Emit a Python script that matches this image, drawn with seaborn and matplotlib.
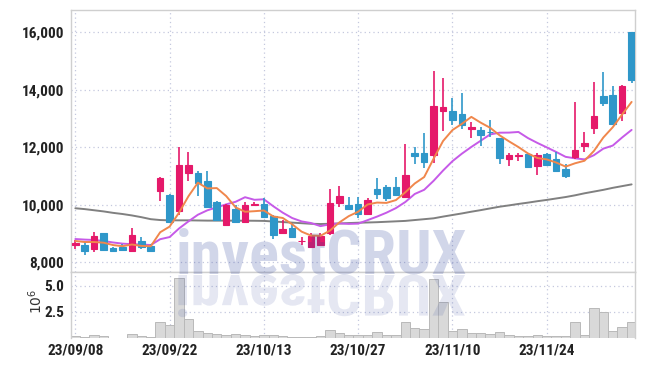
import os
import matplotlib
matplotlib.use("Agg")
import matplotlib.pyplot as plt
import matplotlib.ticker as mticker
import matplotlib.transforms as mtrans
from matplotlib.textpath import TextPath
from matplotlib.patches import PathPatch
from matplotlib.font_manager import FontProperties
from matplotlib import font_manager as fm
import seaborn as sns
import numpy as np
import pandas as pd

# ---------------- data ----------------
opens = [8600, 8610, 8460, 9020, 8510, 8540, 8380, 8750, 8570, 10490,
         10340, 9800, 11100, 11120, 10830, 10100, 9300, 9850, 9410, 9990,
         10030, 9610, 9030, 9200, 8730, 8540, 8600, 9030, 10050, 9990,
         10030, 9670, 10550, 10610, 10610, 10260, 11800, 11800, 11730, 13260,
         13260, 13160, 12640, 12600, 12540, 12310, 11590, 11700, 11770, 11360,
         11770, 11590, 11250, 11670, 12060, 12680, 13780, 13820, 13180, 16000]
highs = [8780, 8700, 9040, 9030, 8530, 8620, 9180, 8870, 8630, 10950,
         10380, 12020, 11850, 11190, 11190, 10130, 10030, 9990, 10090, 10110,
         10230, 9650, 9470, 9360, 8870, 9010, 9030, 10540, 10660, 10260,
         10260, 10230, 10920, 10690, 10980, 12110, 12000, 12490, 14660, 14400,
         13700, 13880, 12890, 12720, 12950, 12330, 11810, 11810, 11790, 11790,
         11790, 11830, 11420, 13590, 12520, 14280, 14610, 14140, 14150, 16000]
lows = [8450, 8250, 8370, 8430, 8350, 8390, 8350, 8480, 8350, 10120,
        9400, 9650, 10820, 10300, 9930, 9460, 9260, 9400, 9400, 9950,
        9580, 8810, 9030, 8880, 8600, 8540, 8590, 8950, 9910, 9840,
        9530, 9660, 10190, 10130, 10330, 10250, 11410, 11270, 11440, 12570,
        12780, 12630, 12310, 12050, 12370, 11410, 11360, 11520, 11270, 11040,
        11380, 11180, 10920, 11600, 11850, 12450, 13440, 12790, 12910, 14250]
closes = [8670, 8390, 8910, 8440, 8400, 8430, 8950, 8520, 8400, 10930,
          9410, 11380, 11380, 10750, 9930, 9470, 9990, 9410, 9990, 10030,
          9590, 8950, 9150, 8890, 8750, 8910, 8910, 10050, 10310, 9850,
          9680, 10170, 10380, 10250, 10340, 11040, 11700, 11500, 13440, 13410,
          12950, 12780, 12710, 12430, 12520, 11640, 11730, 11720, 11330, 11720,
          11390, 11190, 11010, 11910, 12160, 13090, 13530, 12800, 14130, 14340]
volumes = [0.16, 0.10, 0.26, 0.15, 0.03, 0.03, 0.35, 0.15, 0.12, 1.54,
           1.22, 5.74, 1.83, 0.67, 0.48, 0.38, 0.26, 0.35, 0.26, 0.15,
           0.26, 0.26, 0.15, 0.12, 0.10, 0.10, 0.15, 0.74, 0.48, 0.26,
           0.26, 0.28, 0.55, 0.26, 0.26, 1.51, 0.93, 0.83, 5.64, 3.43,
           0.70, 0.83, 0.48, 0.48, 0.38, 0.58, 0.26, 0.15, 0.15, 0.26,
           0.15, 0.15, 0.15, 1.51, 0.26, 2.86, 2.47, 0.67, 1.06, 1.51]
ma5 = [8741, 8706, 8706, 8682, 8600, 8560, 8620, 8570, 8560, 9046,
       9242, 9728, 10300, 10770, 10570, 10582, 10304, 9910, 9758, 9778,
       9802, 9594, 9542, 9322, 9066, 8930, 8922, 9102, 9386, 9606,
       9760, 10012, 10078, 10066, 10164, 10436, 10742, 10966, 11604, 12218,
       12600, 12816, 13058, 12856, 12678, 12416, 12206, 12008, 11788, 11628,
       11578, 11470, 11328, 11444, 11532, 11872, 12340, 12698, 13142, 13578]
ma10 = [8810, 8790, 8776, 8741, 8690, 8650, 8630, 8620, 8600, 8804,
        8878, 9177, 9424, 9655, 9808, 9912, 10016, 10105, 10264, 10174,
        10192, 9949, 9726, 9540, 9422, 9366, 9258, 9322, 9354, 9336,
        9345, 9467, 9590, 9726, 9885, 10098, 10377, 10522, 10835, 11191,
        11518, 11779, 12012, 12230, 12448, 12508, 12511, 12533, 12322, 12153,
        11997, 11838, 11668, 11616, 11580, 11725, 11953, 12060, 12343, 12605]
ma60 = [9880, 9850, 9810, 9770, 9720, 9680, 9630, 9570, 9500, 9470,
        9460, 9460, 9460, 9455, 9450, 9450, 9450, 9448, 9447, 9445,
        9440, 9420, 9400, 9380, 9360, 9340, 9332, 9340, 9350, 9365,
        9377, 9385, 9395, 9410, 9425, 9440, 9470, 9500, 9530, 9590,
        9645, 9700, 9760, 9815, 9875, 9934, 9980, 10030, 10075, 10125,
        10170, 10220, 10270, 10330, 10400, 10460, 10520, 10590, 10650, 10710]
tick_pos = [0, 10, 20, 30, 40, 50]
tick_labels = ["23/09/08", "23/09/22", "23/10/13", "23/10/27", "23/11/10", "23/11/24"]
price_ticks = [8000, 10000, 12000, 14000, 16000]
vol_ticks = [2.5, 5.0]

# ---------------- fonts ----------------
def pick_font(patterns):
    files = [f.fname for f in fm.fontManager.ttflist]
    for pat in patterns:
        for fn in files:
            if pat in os.path.basename(fn).lower():
                return fn
    return None

narrow_bold = pick_font(["robotocondensed-bold.", "liberationsansnarrow-bold.",
                         "dejavusanscondensed-bold.", "notosans-condensedbold.",
                         "opensans-condensedbold.", "opensans_condensed-bold.",
                         "liberationsans-bold.", "dejavusans-bold."])
TICKFP = FontProperties(fname=narrow_bold) if narrow_bold else FontProperties(weight="bold")

# ---------------- style ----------------
sns.set_theme(style="white")
plt.rcParams["font.family"] = ["DejaVu Sans"]

UP = "#e5196a"
DOWN = "#2f97c9"
GRID = "#c4c8de"
SPINE = "#cfcfcf"

df = pd.DataFrame({"idx": np.arange(len(closes)), "open": opens, "high": highs,
                   "low": lows, "close": closes, "volume": volumes,
                   "ma5": ma5, "ma10": ma10, "ma60": ma60})
df["color"] = np.where(df["close"] >= df["open"], UP, DOWN)

W, H = 645, 366
fig = plt.figure(figsize=(W / 100, H / 100), dpi=100)
L, R, T, MID, B = 71, 635, 10, 272, 338
ax = fig.add_axes([L / W, 1 - MID / H, (R - L) / W, (MID - T) / H])
axv = fig.add_axes([L / W, 1 - B / H, (R - L) / W, (B - MID) / H], sharex=ax)

# moving averages
sns.lineplot(data=df, x="idx", y="ma60", ax=ax, color="#808080", lw=1.4, zorder=2)
sns.lineplot(data=df, x="idx", y="ma10", ax=ax, color="#c65ae8", lw=1.4, zorder=2)
sns.lineplot(data=df, x="idx", y="ma5", ax=ax, color="#f0874c", lw=1.4, zorder=4)

# candles
ax.vlines(df["idx"], df["low"], df["high"], colors=df["color"], lw=1.2, zorder=3)
body_bottom = np.minimum(df["open"], df["close"])
body_h = np.abs(df["close"] - df["open"])
ax.bar(df["idx"], body_h, bottom=body_bottom, width=0.7, color=df["color"],
       edgecolor=df["color"], linewidth=0.8, zorder=3)

# volume
axv.bar(df["idx"], df["volume"], width=1.0, color="#d9d9d9",
        edgecolor="#b9b9b9", linewidth=0.7, zorder=2)

# axes formatting
ax.set_xlim(-0.46, 59.36)
ax.set_ylim(7663, 16775)
axv.set_ylim(0, 6.3)
ax.set_yticks(price_ticks)
ax.yaxis.set_major_formatter(mticker.FuncFormatter(lambda v, p: f"{int(v):,}"))
axv.set_yticks(vol_ticks)
axv.yaxis.set_major_formatter(mticker.FormatStrFormatter("%.1f"))
axv.set_xticks(tick_pos)
axv.set_xticklabels(tick_labels)
ax.tick_params(axis="x", labelbottom=False, length=0)
for a in (ax, axv):
    a.set_xlabel("")
    a.set_ylabel("")
    a.tick_params(axis="both", length=0, pad=5, labelcolor="#222222")
    for lab in a.get_yticklabels() + a.get_xticklabels():
        lab.set_fontproperties(TICKFP)
        lab.set_fontsize(11)
    a.grid(True, color=GRID, linestyle=(0, (1, 2.5)), linewidth=0.9)
    a.set_axisbelow(True)
    for s in a.spines.values():
        s.set_color(SPINE)
        s.set_linewidth(1.0)
axv.spines["bottom"].set_visible(False)
axv.tick_params(axis="x", pad=4)
axv.set_ylabel(r"$10^6$", fontsize=10, color="#333333")
axv.yaxis.set_label_coords((45 - L) / (R - L), 0.55)

# watermark and its faint reflection
wm_file = pick_font(["liberationsansnarrow-bold.", "robotocondensed-bold.",
                     "dejavusanscondensed-bold.", "liberationsans-bold.",
                     "dejavusans-bold."])
WMFP = FontProperties(fname=wm_file) if wm_file else FontProperties(weight="bold")
tp100 = TextPath((0, 0), "investCRUX", size=100, prop=WMFP)
wpx100 = tp100.get_extents().width * 100 / 72
wm_size = 100 * 287 / wpx100
wm_color = "#2a3f9a"
fig.text(321.5 / W, 1 - 273 / H, "investCRUX", ha="center", va="baseline",
         fontproperties=WMFP, fontsize=wm_size, color=wm_color,
         alpha=0.21, zorder=10)
tp = TextPath((0, 0), "investCRUX", size=wm_size, prop=WMFP)
ext = tp.get_extents()
sc = 100 / 72
tr = mtrans.Affine2D().translate(-(ext.x0 + ext.width / 2), 0).scale(sc, -sc * 0.92) \
    .translate(321.5, H - 275)
fig.patches.append(PathPatch(tp, transform=tr, facecolor=wm_color, edgecolor="none",
                             alpha=0.12, zorder=10, figure=fig))

fig.savefig("out.png", dpi=100)
